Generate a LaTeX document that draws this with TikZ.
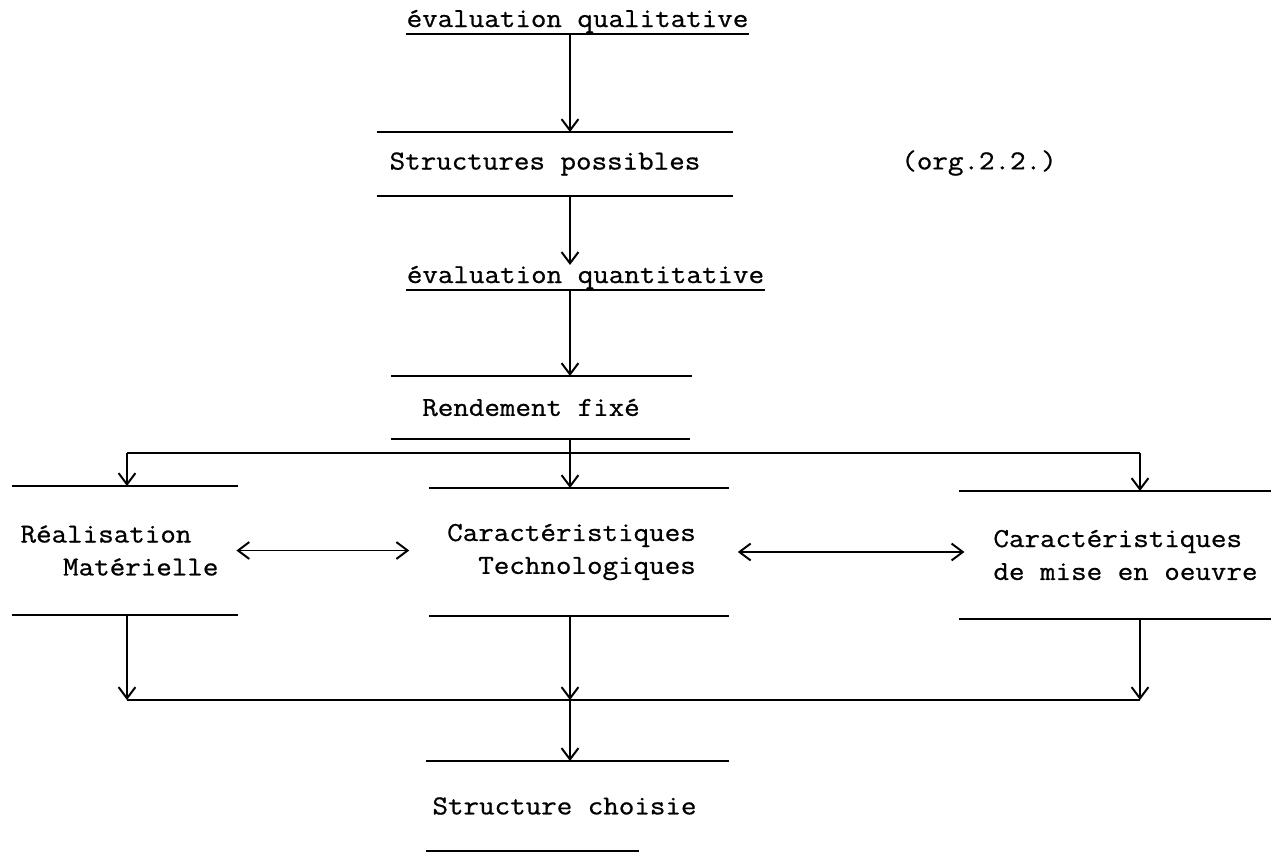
\documentclass[tikz,border=0pt]{standalone}
\usepackage{fontspec}
\setmonofont{Latin Modern Mono}[FakeStretch=1.1, FakeBold=0.8]
\usepackage{tikz}
\usetikzlibrary{arrows.meta,positioning,calc}
\newcommand{\pxu}{0.025cm}

\begin{document}
\begin{tikzpicture}[
  x=\pxu, y=-\pxu, line width=1.4pt,
  every node/.style={font=\ttfamily\fontsize{19.5}{23.4}\selectfont, inner sep=0pt},
  arr/.style={-{Straight Barb[length=8pt,width=12pt]}},
  darr/.style={{Straight Barb[length=8pt,width=12pt]}-{Straight Barb[length=8pt,width=12pt]}},
  bar/.style n args={4}{minimum height=#1, append after command={
      ($(\tikzlastnode.north west)+(-#2,0)$) edge ($(\tikzlastnode.north east)+(#3,0)$)
      ($(\tikzlastnode.south west)+(-#2,0)$) edge ($(\tikzlastnode.south east)+(#4,0)$)}},
  uline/.style={text depth=0.15cm, append after command={
      (\tikzlastnode.south west) edge (\tikzlastnode.south east)}}
]
  \useasboundingbox (0,0) rectangle (1278,851);
  \node[uline, anchor=base] (qual) at (577.5,27) {évaluation qualitative};
  \node[bar={1.55cm}{12}{32}{32}] (poss) at (545,164) {Structures possibles};
  \node (org) at (979,163) {(org.2.2.)};
  \node[uline, anchor=base] (quant) at (585.5,283) {évaluation quantitative};
  \node[bar={1.525cm}{30}{51}{49}] (rend) at (531,407.5) {Rendement fixé};
  \node[bar={3.175cm}{8}{19}{19}, align=left] (mat) at (119.5,550.5) {Réalisation\\\hspace*{1.55em}Matérielle};
  \node[bar={3.15cm}{17}{32}{32}, align=right] (tech) at (571.5,552) {Caractéristiques\\Technologiques};
  \node[bar={3.15cm}{33}{12}{12}, align=left] (mise) at (1125.5,555) {Caractéristiques\\de mise en oeuvre};
  \node[bar={2.2cm}{5}{31}{-59}] (choix) at (564.5,806) {Structure choisie};

  \coordinate (axe) at (570,0);
  \coordinate (xg) at (127,0);
  \coordinate (xd) at (1140,0);
  \coordinate (haut) at (0,453);
  \coordinate (bas) at (0,700);

  \draw[arr] (qual.south -| axe) -- (poss.north -| axe);
  \draw[arr] (poss.south -| axe) -- (quant.north -| axe);
  \draw[arr] (quant.south -| axe) -- (rend.north -| axe);
  \draw (rend.south -| axe) -- (axe |- haut);
  \draw (xg |- haut) -- (xd |- haut);
  \draw[arr] (xg |- haut) -- (xg |- mat.north);
  \draw[arr] (axe |- haut) -- (axe |- tech.north);
  \draw[arr] (xd |- haut) -- (xd |- mise.north);
  \draw[darr, shorten <=0.425cm, shorten >=0.925cm] (mat.east) -- (mat.east -| tech.west);
  \draw[darr, shorten <=1.025cm, shorten >=0.7cm] (tech.east) -- (tech.east -| mise.west);
  \draw[arr] (xg |- mat.south) -- (xg |- bas);
  \draw[arr] (axe |- tech.south) -- (axe |- bas);
  \draw[arr] (xd |- mise.south) -- (xd |- bas);
  \draw (xg |- bas) -- (xd |- bas);
  \draw[arr] (axe |- bas) -- (axe |- choix.north);
\end{tikzpicture}
\end{document}
